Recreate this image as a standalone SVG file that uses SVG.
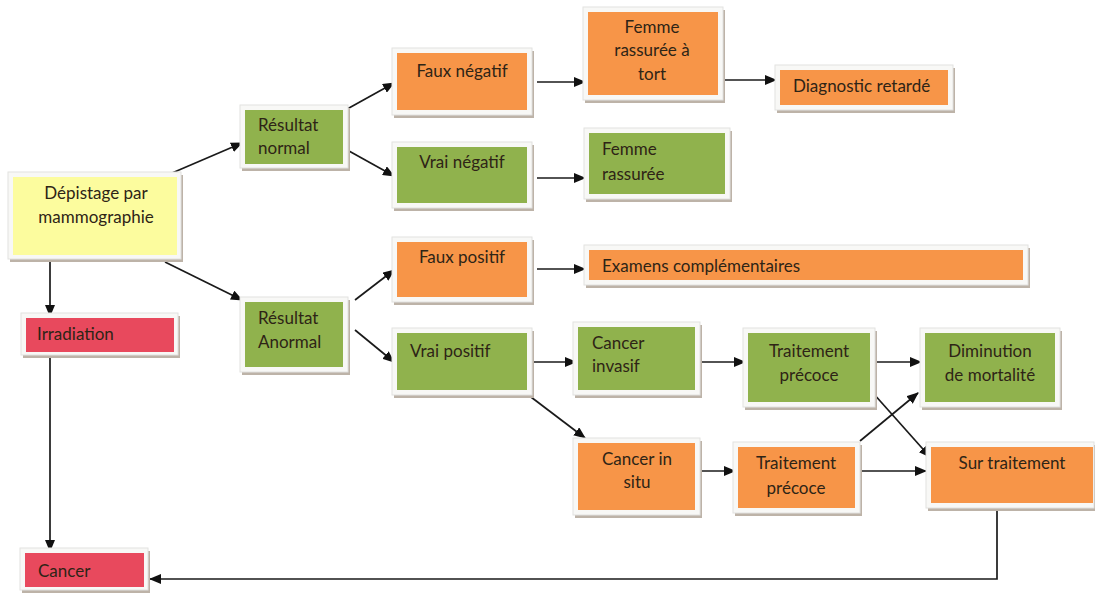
<svg xmlns="http://www.w3.org/2000/svg" width="1095" height="597" viewBox="0 0 1095 597">
<defs>
<marker id="ah" markerWidth="12" markerHeight="10" refX="11" refY="5" orient="auto" markerUnits="userSpaceOnUse">
<path d="M0,0 L12,5 L0,10 Z" fill="#111"/>
</marker>
</defs>
<style>
.sh{fill:#bdb3a8}
.fr{fill:#f8f8f6;stroke:#e2e2e0;stroke-width:1}
.y{fill:#fcfc9e}
.g{fill:#90b24d}
.o{fill:#f79548}
.r{fill:#e8495d}
text{font-family:Lato,"Liberation Sans",sans-serif;font-size:17px;fill:#2e2416}
.c{text-anchor:middle}
.ln{stroke:#1a1a1a;stroke-width:1.7;fill:none}
.ar{marker-end:url(#ah)}
</style>
<rect width="1095" height="597" fill="#ffffff"/>

<g id="connectors">
<line class="ln ar" x1="165" y1="176" x2="242" y2="143"/>
<line class="ln ar" x1="165" y1="262" x2="242" y2="300"/>
<line class="ln ar" x1="50" y1="258" x2="50" y2="316"/>
<line class="ln ar" x1="50" y1="354" x2="50" y2="551"/>
<line class="ln ar" x1="340" y1="113" x2="394" y2="83"/>
<line class="ln ar" x1="340" y1="146" x2="394" y2="176"/>
<line class="ln ar" x1="537" y1="82" x2="585" y2="82"/>
<line class="ln ar" x1="722" y1="80" x2="776" y2="80"/>
<line class="ln ar" x1="537" y1="178" x2="585" y2="178"/>
<line class="ln ar" x1="355" y1="300" x2="394" y2="270"/>
<line class="ln ar" x1="355" y1="330" x2="394" y2="362"/>
<line class="ln ar" x1="537" y1="269" x2="585" y2="269"/>
<line class="ln ar" x1="527" y1="362" x2="576" y2="362"/>
<line class="ln ar" x1="527" y1="394" x2="585" y2="438"/>
<line class="ln ar" x1="689" y1="362" x2="745" y2="362"/>
<line class="ln ar" x1="866" y1="362" x2="921" y2="362"/>
<line class="ln ar" x1="873" y1="393" x2="930" y2="457"/>
<line class="ln ar" x1="680" y1="471" x2="735" y2="471"/>
<line class="ln ar" x1="860" y1="441" x2="918" y2="393"/>
<line class="ln ar" x1="858" y1="471" x2="926" y2="471"/>
<polyline class="ln ar" points="997,503 997,579 150,579"/>
</g>

<g id="depistage">
<rect class="sh" x="10" y="175" width="173" height="87"/>
<rect class="fr" x="8" y="172" width="173" height="87"/>
<rect class="y" x="13" y="177" width="164" height="78"/>
<text class="c" x="96" y="199">Dépistage par</text>
<text class="c" x="96" y="223">mammographie</text>
</g>

<g id="irradiation">
<rect class="sh" x="23" y="316" width="157" height="42"/>
<rect class="fr" x="21" y="313" width="157" height="42"/>
<rect class="r" x="26" y="318" width="148" height="34"/>
<text x="37" y="340">Irradiation</text>
</g>

<g id="cancer">
<rect class="sh" x="22" y="551" width="128" height="42"/>
<rect class="fr" x="20" y="548" width="128" height="42"/>
<rect class="r" x="25" y="553" width="119" height="34"/>
<text x="38" y="577">Cancer</text>
</g>

<g id="resultat-normal">
<rect class="sh" x="242" y="108" width="108" height="63"/>
<rect class="fr" x="240" y="105" width="108" height="63"/>
<rect class="g" x="245" y="110" width="98" height="54"/>
<text x="258" y="131">Résultat</text>
<text x="258" y="154">normal</text>
</g>

<g id="resultat-anormal">
<rect class="sh" x="242" y="300" width="108" height="75"/>
<rect class="fr" x="240" y="297" width="108" height="75"/>
<rect class="g" x="245" y="302" width="98" height="65"/>
<text x="258" y="324">Résultat</text>
<text x="258" y="348">Anormal</text>
</g>

<g id="faux-negatif">
<rect class="sh" x="394" y="51" width="140" height="67"/>
<rect class="fr" x="392" y="48" width="140" height="67"/>
<rect class="o" x="397" y="53" width="130" height="57"/>
<text class="c" x="462" y="77">Faux négatif</text>
</g>

<g id="vrai-negatif">
<rect class="sh" x="394" y="145" width="140" height="66"/>
<rect class="fr" x="392" y="142" width="140" height="66"/>
<rect class="g" x="397" y="147" width="130" height="56"/>
<text class="c" x="462" y="168">Vrai négatif</text>
</g>

<g id="faux-positif">
<rect class="sh" x="394" y="240" width="140" height="65"/>
<rect class="fr" x="392" y="237" width="140" height="65"/>
<rect class="o" x="397" y="242" width="130" height="55"/>
<text class="c" x="462" y="263">Faux positif</text>
</g>

<g id="vrai-positif">
<rect class="sh" x="394" y="331" width="140" height="67"/>
<rect class="fr" x="392" y="328" width="140" height="67"/>
<rect class="g" x="397" y="333" width="130" height="57"/>
<text x="410" y="357">Vrai positif</text>
</g>

<g id="femme-rassuree-a-tort">
<rect class="sh" x="585" y="10" width="140" height="93"/>
<rect class="fr" x="583" y="7" width="140" height="93"/>
<rect class="o" x="588" y="12" width="130" height="83"/>
<text class="c" x="652" y="33">Femme</text>
<text class="c" x="652" y="56">rassurée à</text>
<text class="c" x="652" y="80">tort</text>
</g>

<g id="diagnostic-retarde">
<rect class="sh" x="777" y="68" width="178" height="45"/>
<rect class="fr" x="775" y="65" width="178" height="45"/>
<rect class="o" x="780" y="70" width="168" height="35"/>
<text x="793" y="92">Diagnostic retardé</text>
</g>

<g id="femme-rassuree">
<rect class="sh" x="586" y="131" width="146" height="71"/>
<rect class="fr" x="584" y="128" width="146" height="71"/>
<rect class="g" x="589" y="133" width="136" height="61"/>
<text x="602" y="155">Femme</text>
<text x="602" y="180">rassurée</text>
</g>

<g id="examens">
<rect class="sh" x="586" y="248" width="444" height="40"/>
<rect class="fr" x="584" y="245" width="444" height="40"/>
<rect class="o" x="589" y="250" width="434" height="30"/>
<text x="602" y="272">Examens complémentaires</text>
</g>

<g id="cancer-invasif">
<rect class="sh" x="575" y="325" width="127" height="73"/>
<rect class="fr" x="573" y="322" width="127" height="73"/>
<rect class="g" x="578" y="327" width="117" height="63"/>
<text x="592" y="349">Cancer</text>
<text x="592" y="372">invasif</text>
</g>

<g id="traitement-precoce-1">
<rect class="sh" x="745" y="331" width="132" height="79"/>
<rect class="fr" x="743" y="328" width="132" height="79"/>
<rect class="g" x="748" y="333" width="122" height="69"/>
<text class="c" x="809" y="357">Traitement</text>
<text class="c" x="809" y="381">précoce</text>
</g>

<g id="diminution">
<rect class="sh" x="922" y="331" width="140" height="79"/>
<rect class="fr" x="920" y="328" width="140" height="79"/>
<rect class="g" x="925" y="333" width="130" height="69"/>
<text class="c" x="990" y="357">Diminution</text>
<text class="c" x="990" y="381">de mortalité</text>
</g>

<g id="cancer-in-situ">
<rect class="sh" x="575" y="441" width="127" height="77"/>
<rect class="fr" x="573" y="438" width="127" height="77"/>
<rect class="o" x="578" y="443" width="117" height="67"/>
<text class="c" x="637" y="465">Cancer in</text>
<text class="c" x="637" y="488">situ</text>
</g>

<g id="traitement-precoce-2">
<rect class="sh" x="735" y="445" width="127" height="71"/>
<rect class="fr" x="733" y="442" width="127" height="71"/>
<rect class="o" x="738" y="447" width="117" height="61"/>
<text class="c" x="796" y="469">Traitement</text>
<text class="c" x="796" y="494">précoce</text>
</g>

<g id="sur-traitement">
<rect class="sh" x="928" y="445" width="168" height="66"/>
<rect class="fr" x="926" y="442" width="168" height="66"/>
<rect class="o" x="931" y="447" width="162" height="56"/>
<text class="c" x="1012" y="469">Sur traitement</text>
</g>
</svg>
